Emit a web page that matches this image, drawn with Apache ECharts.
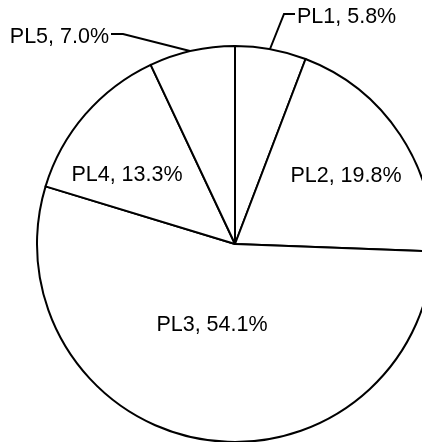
<!DOCTYPE html>
<html>
<head>
<meta charset="utf-8">
<script src="https://cdn.jsdelivr.net/npm/echarts@6/dist/echarts.min.js"></script>
<style>
html,body{margin:0;padding:0;background:#fff;}
#chart{width:422px;height:442px;}
</style>
</head>
<body>
<div id="chart"></div>
<script>
var categories = ['PL1', 'PL2', 'PL3', 'PL4', 'PL5'];
var values = [5.8, 19.8, 54.1, 13.3, 7.0];

// label placement (styling only)
var labelPos = [
  {x: 297, y: 17, align: 'left', line: [[270, 49], [284, 14], [295, 14]]},
  {x: 346, y: 176, align: 'center'},
  {x: 212, y: 325, align: 'center'},
  {x: 127, y: 175, align: 'center'},
  {x: 109, y: 37, align: 'right', line: [[190, 51], [123, 34], [111, 34]]}
];

var data = categories.map(function (c, i) {
  var outside = !!labelPos[i].line;
  return {
    name: c,
    value: values[i],
    label: {position: outside ? 'outside' : 'inside'},
    labelLine: {show: outside}
  };
});

var chart = echarts.init(document.getElementById('chart'), null, {renderer: 'canvas'});
chart.setOption({
  animation: false,
  backgroundColor: '#fff',
  series: [{
    type: 'pie',
    center: [235, 244],
    radius: 198,
    startAngle: 90,
    clockwise: true,
    avoidLabelOverlap: false,
    data: data,
    itemStyle: {color: '#fff', borderColor: '#000', borderWidth: 2},
    label: {
      show: true,
      formatter: function (p) { return p.name + ', ' + p.value.toFixed(1) + '%'; },
      fontFamily: 'Liberation Sans, Arial, sans-serif',
      fontSize: 21.5,
      color: '#000'
    },
    labelLine: {lineStyle: {color: '#000', width: 2}, length: 10, length2: 10},
    emphasis: {disabled: true},
    labelLayout: function (p) {
      var lp = labelPos[p.dataIndex];
      var r = {x: lp.x, y: lp.y, align: lp.align, verticalAlign: 'middle'};
      if (lp.line) r.labelLinePoints = lp.line;
      return r;
    }
  }]
});
</script>
</body>
</html>
